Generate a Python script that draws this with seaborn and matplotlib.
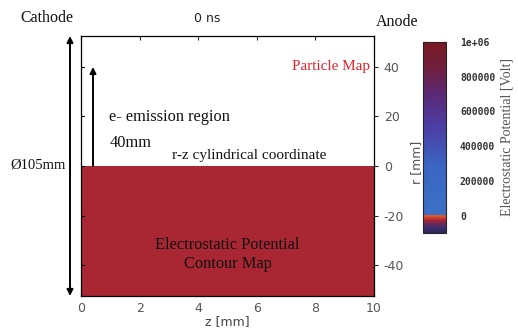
import numpy as np
import matplotlib
matplotlib.use("Agg")
import matplotlib.pyplot as plt
import seaborn as sns
from matplotlib.colors import LinearSegmentedColormap, Normalize

# domain of the simulation (mm)
z_edges = [0, 10]
r_edges = [-52.5, 0]
# electrostatic potential in the filled half (Volt)
potential = [[-25000]]

z_ticks = [0, 2, 4, 6, 8, 10]
r_ticks = [-40, -20, 0, 20, 40]
cbar_ticks = [0, 200000, 400000, 600000, 800000, 1000000]
cbar_labels = ["0", "200000", "400000", "600000", "800000", "1e+06"]
v_min, v_max = -100000, 1000000

emission_top = 40

sns.set_theme(style="ticks")
plt.rcParams["font.family"] = ["DejaVu Sans"]
plt.rcParams["axes.unicode_minus"] = False

W, H = 518, 336
fig = plt.figure(figsize=(W / 100, H / 100), dpi=100)


def px(x, y):
    return x / W, 1 - y / H


cmap = LinearSegmentedColormap.from_list("pot", [
    (0.00, "#27285f"),
    (0.035, "#4a2c6c"),
    (0.068, "#ad2631"),
    (0.085, "#e2562c"),
    (0.0905, "#e2562c"),
    (0.0909, "#3b70c6"),
    (0.35, "#3a66c2"),
    (0.55, "#4b3fa6"),
    (0.72, "#5a2a78"),
    (0.86, "#6e1f3f"),
    (1.00, "#7a1a22"),
])
norm = Normalize(v_min, v_max)

ax = fig.add_axes([81 / W, 1 - 296 / H, 293 / W, 260 / H])
ax.set_facecolor("white")
mesh = ax.pcolormesh(z_edges, r_edges, potential, cmap=cmap, norm=norm)
ax.set_xlim(0, 10)
ax.set_ylim(-52.5, 52.5)
ax.set_xticks(z_ticks)
ax.set_yticks(r_ticks)
for s in ax.spines.values():
    s.set_color("black")
    s.set_linewidth(0.9)
ax.yaxis.tick_right()
ax.tick_params(axis="x", which="both", direction="in", top=True, bottom=True,
               length=3, width=0.8, labelsize=9, labelcolor="#555555", pad=4)
ax.tick_params(axis="y", which="both", direction="out", right=True, left=False,
               length=3, width=0.8, labelsize=9, labelcolor="#555555", pad=4)
for r in r_ticks:
    ax.plot([0, 0.1], [r, r], color="black", lw=0.8, clip_on=False)
ax.set_xlabel("z [mm]", fontsize=9, color="#444444", labelpad=0)

# colorbar
cax = fig.add_axes([423 / W, 1 - 233 / H, 23 / W, 191 / H])
cb = fig.colorbar(mesh, cax=cax)
cb.set_ticks(cbar_ticks)
cb.set_ticklabels(cbar_labels)
cb.outline.set_linewidth(0.8)
cax.tick_params(direction="in", left=True, right=True, length=3, width=0.8,
                pad=10, labelsize=7, labelcolor="#333333", color="#222222")
for t in cax.get_yticklabels():
    t.set_family("DejaVu Sans Mono")
    t.set_weight("bold")
cb.set_label("Electrostatic Potential [Volt]", family="Liberation Serif",
             fontsize=10, color="#555555", labelpad=4)

fig.text(*px(417, 162), "r [mm]", rotation=90, ha="center", va="center",
         fontsize=9, color="#555555")

serif = dict(family="Liberation Serif", color="#111111")
fig.text(*px(47, 18), "Cathode", ha="center", va="center", fontsize=11.5, **serif)
fig.text(*px(397, 22), "Anode", ha="center", va="center", fontsize=11.5, **serif)
fig.text(*px(207, 18), "0 ns", ha="center", va="center", fontsize=9, color="#222222")
fig.text(*px(66, 165), "Ø105mm", ha="right", va="center", fontsize=10.5, **serif)

ax.text(9.85, 40, "Particle Map", ha="right", va="center", fontsize=10.9,
        family="Liberation Serif", color="#e0202a")
ax.text(0.97, 19.8, "e- emission region", ha="left", va="center", fontsize=11.8, **serif)
ax.text(0.97, 9.2, "40mm", ha="left", va="center", fontsize=11.8, **serif)
ax.text(3.1, 4.3, "r-z cylindrical coordinate", ha="left", va="center", fontsize=11, **serif)
ax.text(5.0, -35.6, "Electrostatic Potential\nContour Map", ha="center", va="center",
        fontsize=11.8, linespacing=1.25, **serif)

# arrows
ax.annotate("", xy=(-0.375, 52.5), xytext=(-0.375, -52.5),
            arrowprops=dict(arrowstyle="<|-|>", color="black", lw=1.4,
                            mutation_scale=9, shrinkA=0, shrinkB=0),
            annotation_clip=False)
ax.annotate("", xy=(0.41, emission_top), xytext=(0.41, 0),
            arrowprops=dict(arrowstyle="-|>", color="black", lw=1.4,
                            mutation_scale=9, shrinkA=0, shrinkB=0),
            annotation_clip=False)

fig.savefig("out.png", dpi=100)
